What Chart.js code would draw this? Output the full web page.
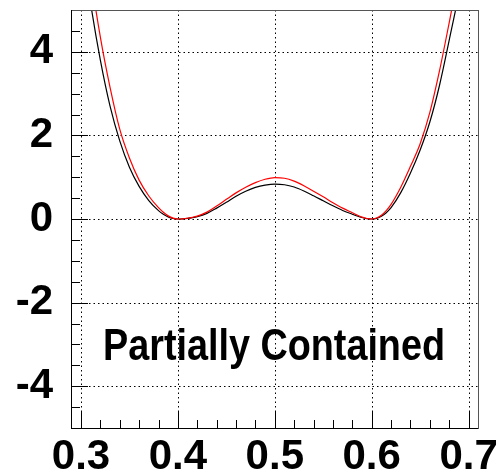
<!DOCTYPE html>
<html>
<head>
<meta charset="utf-8">
<script src="https://cdn.jsdelivr.net/npm/chart.js@4"></script>
<style>
  html, body { margin: 0; padding: 0; background: #fff; }
</style>
</head>
<body>
<canvas id="chart" width="498" height="475"></canvas>
<script>
// values (denser near the two minima)
const xValues = [0.30, 0.31, 0.32, 0.33, 0.34, 0.35, 0.36, 0.37, 0.38, 0.385, 0.39, 0.395,
                 0.40, 0.405, 0.41, 0.415, 0.42, 0.43, 0.44, 0.45, 0.46, 0.47, 0.48, 0.49,
                 0.50, 0.51, 0.52, 0.53, 0.54, 0.55, 0.56, 0.57, 0.58, 0.585, 0.59, 0.595,
                 0.60, 0.605, 0.61, 0.615, 0.62, 0.63, 0.64, 0.65, 0.66, 0.67, 0.68, 0.69, 0.70];
const blackCurve = [6.8, 5.15, 3.8, 2.7, 1.87, 1.24, 0.78, 0.44, 0.2, 0.115, 0.05, 0.012,
                    0, 0.004, 0.015, 0.032, 0.056, 0.135, 0.26, 0.40, 0.545, 0.665, 0.755, 0.81,
                    0.835, 0.82, 0.765, 0.67, 0.555, 0.435, 0.315, 0.205, 0.115, 0.072, 0.035, 0.009,
                    0, 0.016, 0.065, 0.15, 0.27, 0.63, 1.1, 1.65, 2.32, 3.2, 4.28, 5.4, 6.7];
const redCurve = [7.8, 5.85, 4.35, 3.15, 2.15, 1.46, 0.93, 0.55, 0.27, 0.16, 0.075, 0.02,
                  0, 0.005, 0.018, 0.04, 0.07, 0.165, 0.31, 0.47, 0.625, 0.76, 0.87, 0.95,
                  0.99, 0.975, 0.905, 0.795, 0.665, 0.53, 0.39, 0.26, 0.15, 0.095, 0.045, 0.012,
                  0, 0.024, 0.09, 0.2, 0.35, 0.76, 1.26, 1.8, 2.55, 3.55, 4.7, 5.9, 7.2];
const xTicks = [0.3, 0.4, 0.5, 0.6, 0.7];
const yTicks = [-4, -2, 0, 2, 4];
const xMinor = [0.30, 0.32, 0.34, 0.36, 0.38, 0.40, 0.42, 0.44, 0.46, 0.48, 0.50,
                0.52, 0.54, 0.56, 0.58, 0.60, 0.62, 0.64, 0.66, 0.68, 0.70];
const yMinor = [-4.5, -4, -3.5, -3, -2.5, -2, -1.5, -1, -0.5, 0, 0.5,
                1, 1.5, 2, 2.5, 3, 3.5, 4, 4.5];
const label = 'Partially Contained';

const FONT = '"Liberation Sans", Arial, Helvetica, sans-serif';

function seg(ctx, x1, y1, x2, y2) {
  ctx.beginPath();
  ctx.moveTo(x1, y1);
  ctx.lineTo(x2, y2);
  ctx.stroke();
}

// ROOT-like frame: dotted grid, inward ticks, text label
const rootFrame = {
  id: 'rootFrame',
  beforeDatasetsDraw(chart) {
    const { ctx, chartArea: a, scales: { x, y } } = chart;
    ctx.save();
    ctx.strokeStyle = '#000';
    ctx.lineWidth = 1;
    ctx.setLineDash([1.5, 3]);
    xTicks.forEach(v => {
      const px = Math.round(x.getPixelForValue(v)) + 0.5;
      seg(ctx, px, a.top, px, a.bottom);
    });
    yTicks.forEach(v => {
      const py = Math.round(y.getPixelForValue(v)) + 0.5;
      seg(ctx, a.left, py, a.right, py);
    });
    ctx.restore();
  },
  afterDraw(chart) {
    const { ctx, chartArea: a, scales: { x, y } } = chart;
    ctx.save();
    ctx.lineWidth = 1;
    ctx.strokeStyle = '#555';
    ctx.strokeRect(Math.round(a.left) + 0.5, Math.round(a.top) + 0.5,
                   Math.round(a.right - a.left), Math.round(a.bottom - a.top));
    ctx.strokeStyle = '#000';
    seg(ctx, Math.round(a.left) + 0.5, a.top, Math.round(a.left) + 0.5, a.bottom + 0.5);
    seg(ctx, a.left, Math.round(a.bottom) + 0.5, a.right, Math.round(a.bottom) + 0.5);

    xMinor.forEach(v => {
      const px = Math.round(x.getPixelForValue(v)) + 0.5;
      const len = xTicks.some(t => Math.abs(t - v) < 1e-6) ? 17 : 8;
      seg(ctx, px, a.bottom, px, a.bottom - len);
    });
    yMinor.forEach(v => {
      const py = Math.round(y.getPixelForValue(v)) + 0.5;
      const len = yTicks.some(t => Math.abs(t - v) < 1e-6) ? 17 : 9;
      seg(ctx, a.left, py, a.left + len, py);
    });

    // label, squeezed horizontally like the original
    ctx.font = 'bold 44px ' + FONT;
    ctx.fillStyle = '#000';
    ctx.textAlign = 'left';
    ctx.textBaseline = 'alphabetic';
    const w = ctx.measureText(label).width;
    ctx.translate(103, 360);
    ctx.scale(342 / w, 1);
    ctx.fillText(label, 0, 0);
    ctx.restore();
  }
};

const lineStyle = {
  showLine: true,
  pointRadius: 0,
  borderWidth: 1.2,
  cubicInterpolationMode: 'monotone',
  clip: 0
};

new Chart(document.getElementById('chart'), {
  type: 'scatter',
  data: {
    datasets: [
      { ...lineStyle, label: 'red', borderColor: '#ff0000',
        data: xValues.map((v, i) => ({ x: v, y: redCurve[i] })) },
      { ...lineStyle, label: 'black', borderColor: '#000000',
        data: xValues.map((v, i) => ({ x: v, y: blackCurve[i] })) }
    ]
  },
  options: {
    responsive: false,
    animation: false,
    devicePixelRatio: 1,
    layout: { padding: { left: 0, top: 10, right: 20, bottom: 0 } },
    plugins: { legend: { display: false }, tooltip: { enabled: false } },
    scales: {
      x: {
        type: 'linear',
        min: 0.2897,
        max: 0.7097,
        grid: { display: false },
        border: { display: false },
        afterBuildTicks: s => { s.ticks = xTicks.map(v => ({ value: v })); },
        afterFit: s => { s.height = 47; s.paddingLeft = 0; s.paddingRight = 0; },
        ticks: {
          color: '#000',
          padding: -4,
          maxRotation: 0,
          font: { family: FONT, size: 42, weight: 'bold' },
          callback: v => v.toFixed(1)
        }
      },
      y: {
        type: 'linear',
        min: -5,
        max: 5,
        grid: { display: false },
        border: { display: false },
        afterBuildTicks: s => { s.ticks = yTicks.map(v => ({ value: v })); },
        afterFit: s => { s.width = 71; s.paddingTop = 0; s.paddingBottom = 0; },
        ticks: {
          color: '#000',
          padding: 10,
          font: { family: FONT, size: 42, weight: 'bold' },
          callback: v => String(v)
        }
      }
    }
  },
  plugins: [rootFrame]
});
</script>
</body>
</html>
